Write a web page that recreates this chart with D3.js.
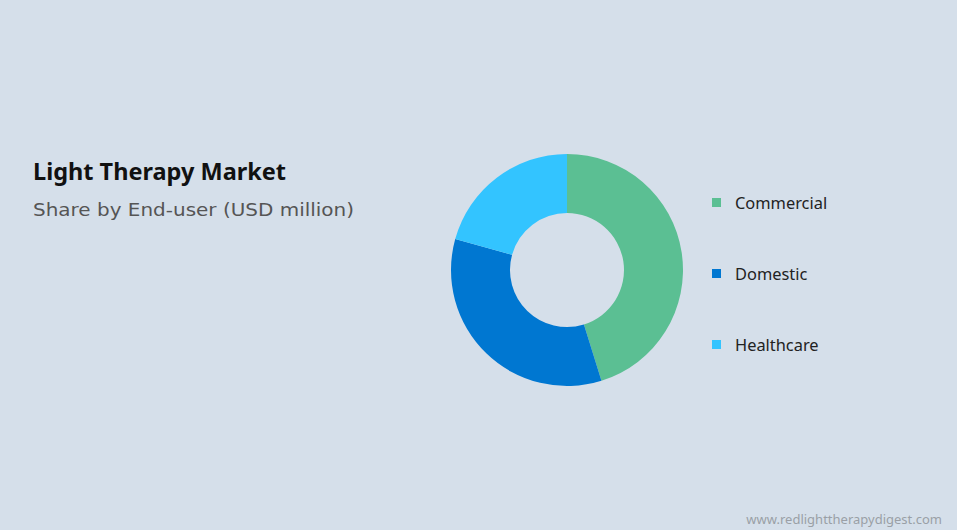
<!DOCTYPE html>
<html>
<head>
<meta charset="utf-8">
<script src="https://cdn.jsdelivr.net/npm/d3@7"></script>
<style>
	html, body { margin: 0; padding: 0; background: #d5dfea; }
	svg { display: block; font-family: "Noto Sans", sans-serif; }
</style>
</head>
<body>
<svg id="chart" width="957" height="530"></svg>
<script>
"use strict";

// shares
const categories = ["Commercial", "Domestic", "Healthcare"];
const values = [45.2, 34.1, 20.7];
const colors = ["#5bbf93", "#0077d1", "#33c4ff"];

const w = 957, h = 530;
const svg = d3.select("#chart");

svg.append("rect")
	.attr("width", w)
	.attr("height", h)
	.attr("fill", "#d5dfea");

// title block
svg.append("text")
	.attr("x", 33)
	.attr("y", 180)
	.attr("font-size", 23.5)
	.attr("font-weight", "bold")
	.attr("fill", "#111")
	.text("Light Therapy Market");

svg.append("text")
	.attr("x", 33)
	.attr("y", 216)
	.attr("font-family", "'DejaVu Sans', sans-serif")
	.attr("font-size", 18.5)
	.attr("fill", "#555")
	.attr("textLength", 321)
	.attr("lengthAdjust", "spacingAndGlyphs")
	.text("Share by End-user (USD million)");

// donut
const cx = 567, cy = 270;
const outer = 116, inner = 57;

const pie = d3.pie().sort(null).value(d => d);
const arc = d3.arc().innerRadius(inner).outerRadius(outer);

const g = svg.append("g").attr("transform", `translate(${cx},${cy})`);
g.selectAll("path")
	.data(pie(values))
	.enter()
	.append("path")
	.attr("d", arc)
	.attr("fill", (d, i) => colors[i]);

// legend
const y = d3.scalePoint().domain(categories).range([203, 345]);

const legend = svg.append("g");
legend.selectAll("rect")
	.data(categories)
	.enter()
	.append("rect")
	.attr("x", 712)
	.attr("y", d => y(d) - 5)
	.attr("width", 9)
	.attr("height", 9)
	.attr("fill", (d, i) => colors[i]);

legend.selectAll("text")
	.data(categories)
	.enter()
	.append("text")
	.attr("x", 735)
	.attr("y", d => y(d))
	.attr("dy", "0.35em")
	.attr("font-size", 16.4)
	.attr("fill", "#222")
	.text(d => d);

// watermark
svg.append("text")
	.attr("x", 942)
	.attr("y", 524)
	.attr("text-anchor", "end")
	.attr("font-size", 13)
	.attr("fill", "#9a9fa6")
	.text("www.redlighttherapydigest.com");
</script>
</body>
</html>
